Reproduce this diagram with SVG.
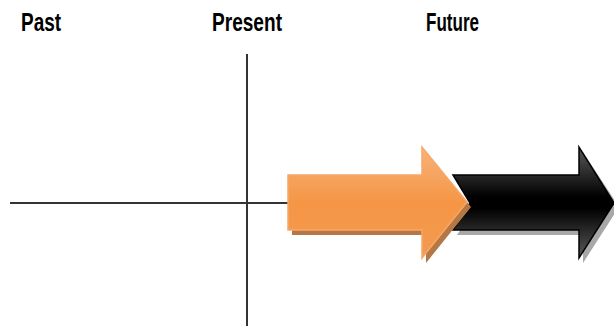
<svg xmlns="http://www.w3.org/2000/svg" width="614" height="326" viewBox="0 0 614 326">
<defs>
<style>
.lbl{font-family:"Liberation Sans",Arial,sans-serif;font-weight:bold;font-size:26px;fill:#000}
.axis{stroke:#333;stroke-width:2;fill:none}
</style>
<linearGradient id="gBlack" x1="0" y1="0" x2="0" y2="1">
<stop offset="0" stop-color="#5a5a5a"/>
<stop offset="0.45" stop-color="#000"/>
<stop offset="0.55" stop-color="#000"/>
<stop offset="1" stop-color="#5a5a5a"/>
</linearGradient>
<linearGradient id="gOrange" x1="0" y1="0" x2="0" y2="1">
<stop offset="0" stop-color="#f8b27a"/>
<stop offset="0.5" stop-color="#f59645"/>
<stop offset="1" stop-color="#f39a50"/>
</linearGradient>
</defs>
<rect width="614" height="326" fill="#fff"/>
<g id="labels">
<text class="lbl" x="21" y="31" textLength="40" lengthAdjust="spacingAndGlyphs">Past</text>
<text class="lbl" x="212" y="31" textLength="70" lengthAdjust="spacingAndGlyphs">Present</text>
<text class="lbl" x="426" y="31" textLength="53" lengthAdjust="spacingAndGlyphs">Future</text>
</g>
<g id="connectors">
<line class="axis" x1="10" y1="203" x2="290" y2="203"/>
<line class="axis" x1="247" y1="54" x2="247" y2="326"/>
</g>
<g id="future-arrow">
<path d="M457,180 L583,180 L583,152 L619,207 L583,263 L583,235 L457,235 L475,207 Z" fill="#a8a8a8"/>
<path d="M453,175 L579,175 L579,147 L614,203 L579,258 L579,230 L453,230 L470,203 Z" fill="url(#gBlack)" stroke="#000" stroke-width="1.5" stroke-linejoin="miter"/>
</g>
<g id="present-arrow">
<path d="M292,180 L426,180 L426,152 L471,207 L426,263 L426,235 L292,235 Z" fill="#b57844"/>
<path d="M288,175 L422,175 L422,147 L467,202 L422,258 L422,230 L288,230 Z" fill="url(#gOrange)" stroke="#f7a868" stroke-width="1.5"/>
</g>
</svg>
